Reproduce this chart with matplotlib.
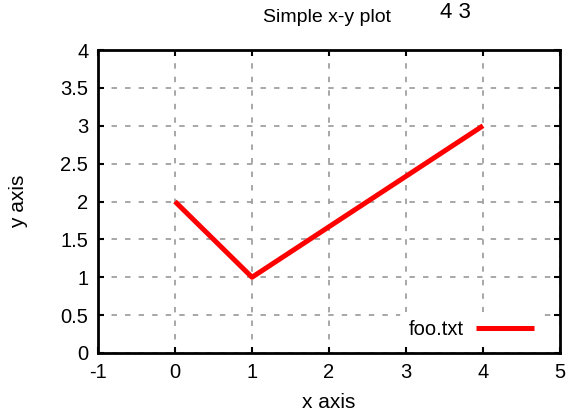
import matplotlib
matplotlib.use("Agg")
import matplotlib.pyplot as plt

plt.rcParams['font.family'] = ['Liberation Sans', 'DejaVu Sans']

x = [0, 1, 4]
y = [2, 1, 3]
series_label = "foo.txt"
xticks = [-1, 0, 1, 2, 3, 4, 5]
yticks = [0, 0.5, 1, 1.5, 2, 2.5, 3, 3.5, 4]
ytick_labels = ["0", "0.5", "1", "1.5", "2", "2.5", "3", "3.5", "4"]

fig = plt.figure(figsize=(5.66, 4.18), dpi=100)
ax = fig.add_axes([98/566, 65/418, 462/566, 303/418])

ax.plot(x, y, color='#ff0000', lw=3.6, label=series_label, solid_capstyle='butt', zorder=3)
ax.set_xlim(-1, 5)
ax.set_ylim(0, 4)
ax.set_xticks(xticks)
ax.set_xticklabels([str(v) for v in xticks])
ax.set_yticks(yticks)
ax.set_yticklabels(ytick_labels)
ax.tick_params(direction='in', length=4, width=1.5, top=True, right=True,
               labelsize=14.5, pad=7, color='black')
ax.grid(True, color='#a0a0a0', linestyle=(0, (3, 4.5)), linewidth=1.3, zorder=1)
ax.set_axisbelow(True)
for s in ax.spines.values():
    s.set_linewidth(2)
ax.set_xlabel("x axis", fontsize=15, labelpad=8)
ax.set_ylabel("y axis", fontsize=15, labelpad=23)

leg = ax.legend(loc='lower right', bbox_to_anchor=(1 - 12/462, 0), frameon=True,
                fontsize=14.5, handlelength=2.9, borderaxespad=0.3, handletextpad=0.6,
                markerfirst=False)
leg.get_frame().set_edgecolor('none')
leg.get_frame().set_facecolor('white')
leg.get_frame().set_alpha(1)

fig.text(327/566, 1 - 18/418, "Simple x-y plot", ha='center', va='center', fontsize=14)
fig.text(455/566, 1 - 12/418, "4 3", ha='center', va='center', fontsize=16)

fig.savefig("out.png", dpi=100)
